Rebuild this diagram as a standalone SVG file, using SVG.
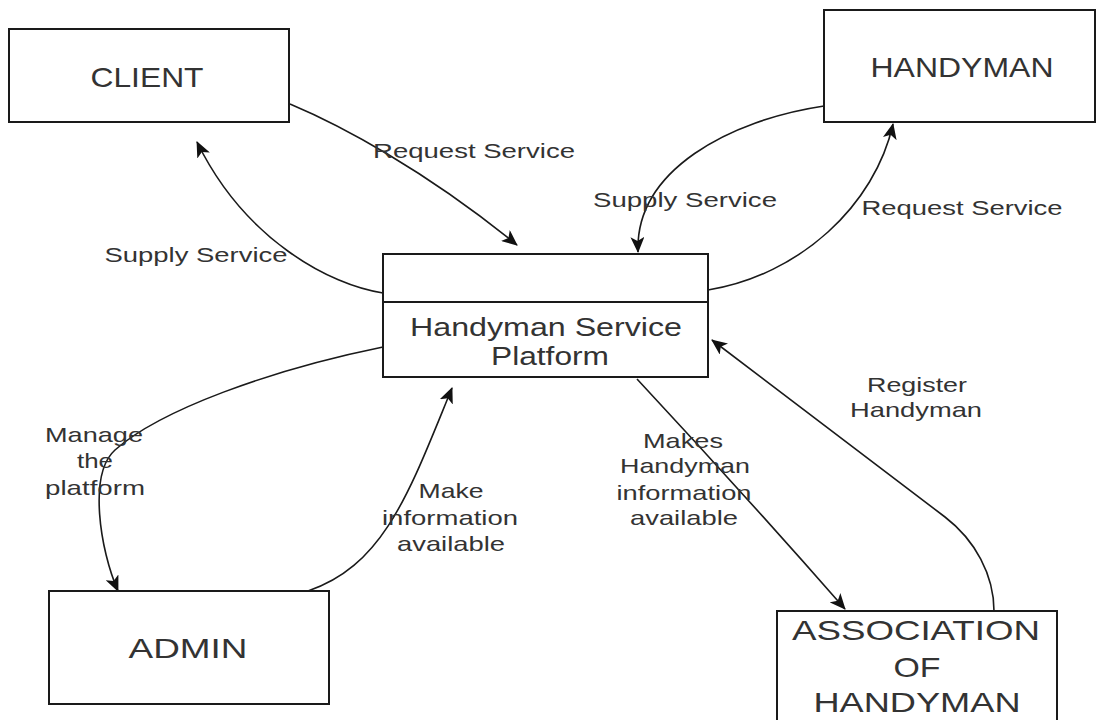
<svg xmlns="http://www.w3.org/2000/svg" width="1097" height="720" viewBox="0 0 1097 720">
  <style>
    .box { fill: #ffffff; stroke: #1a1a1a; stroke-width: 2; }
    .name { font-family: "Liberation Sans", Arial, sans-serif; fill: #333333; text-anchor: middle; }
    .big { font-size: 28px; }
    .mid { font-size: 25px; }
    .lbl { font-family: "Liberation Sans", Arial, sans-serif; font-size: 21px; fill: #333333; text-anchor: middle; }
    .link { fill: none; stroke: #1a1a1a; stroke-width: 1.6; marker-end: url(#arrow); }
  </style>
  <defs>
    <marker id="arrow" markerUnits="userSpaceOnUse" markerWidth="16" markerHeight="14" viewBox="0 0 16 14" refX="15" refY="7" orient="auto">
      <path d="M0,0 L16,7 L0,14 L4,7 z" fill="#111111"/>
    </marker>
  </defs>
  <rect width="1097" height="720" fill="#ffffff"/>

  <g id="connectors">
    <!-- client -> platform: request service -->
    <path class="link" d="M290,104 C340,125 425,170 517,245"/>
    <!-- platform -> client: supply service -->
    <path class="link" d="M383,293 C330,285 245,240 197,142"/>
    <!-- platform -> handyman: supply service -->
    <path class="link" d="M824,106 C730,120 635,170 638,252"/>
    <!-- platform -> handyman: request service -->
    <path class="link" d="M708,290 C800,275 875,205 893,124"/>
    <!-- platform -> admin: manage the platform -->
    <path class="link" d="M383,347 C270,370 160,410 115,450 C88,474 100,550 118,591"/>
    <!-- admin -> platform: make information available -->
    <path class="link" d="M308,591 C385,565 410,490 452,388"/>
    <!-- platform -> association: makes handyman information available -->
    <path class="link" d="M637,379 Q745,495 845,609"/>
    <!-- association -> platform: register handyman -->
    <path class="link" d="M994,611 C994,575 975,540 945,517 L712,340"/>
  </g>

  <g id="edge-labels">
    <text class="lbl" x="474" y="158" textLength="202" lengthAdjust="spacingAndGlyphs">Request Service</text>
    <text class="lbl" x="196" y="262" textLength="183" lengthAdjust="spacingAndGlyphs">Supply Service</text>
    <text class="lbl" x="685" y="207" textLength="184" lengthAdjust="spacingAndGlyphs">Supply Service</text>
    <text class="lbl" x="962" y="215" textLength="201" lengthAdjust="spacingAndGlyphs">Request Service</text>
    <text class="lbl" x="94" y="442" textLength="98" lengthAdjust="spacingAndGlyphs">Manage</text>
    <text class="lbl" x="95" y="468" textLength="36" lengthAdjust="spacingAndGlyphs">the</text>
    <text class="lbl" x="95" y="495" textLength="100" lengthAdjust="spacingAndGlyphs">platform</text>
    <text class="lbl" x="451" y="498" textLength="65" lengthAdjust="spacingAndGlyphs">Make</text>
    <text class="lbl" x="450" y="525" textLength="136" lengthAdjust="spacingAndGlyphs">information</text>
    <text class="lbl" x="451" y="551" textLength="108" lengthAdjust="spacingAndGlyphs">available</text>
    <text class="lbl" x="683" y="448" textLength="80" lengthAdjust="spacingAndGlyphs">Makes</text>
    <text class="lbl" x="685" y="473" textLength="130" lengthAdjust="spacingAndGlyphs">Handyman</text>
    <text class="lbl" x="684" y="500" textLength="135" lengthAdjust="spacingAndGlyphs">information</text>
    <text class="lbl" x="684" y="525" textLength="108" lengthAdjust="spacingAndGlyphs">available</text>
    <text class="lbl" x="917" y="392" textLength="100" lengthAdjust="spacingAndGlyphs">Register</text>
    <text class="lbl" x="916" y="417" textLength="132" lengthAdjust="spacingAndGlyphs">Handyman</text>
  </g>

  <g id="client">
    <rect class="box" x="9" y="29" width="280" height="93"/>
    <text class="name big" x="147" y="87" textLength="113" lengthAdjust="spacingAndGlyphs">CLIENT</text>
  </g>

  <g id="handyman">
    <rect class="box" x="824" y="10" width="271" height="112"/>
    <text class="name big" x="962" y="77" textLength="183" lengthAdjust="spacingAndGlyphs">HANDYMAN</text>
  </g>

  <g id="platform">
    <rect class="box" x="383" y="254" width="325" height="123"/>
    <line x1="383" y1="302" x2="708" y2="302" stroke="#1a1a1a" stroke-width="2"/>
    <text class="name mid" x="546" y="336" textLength="272" lengthAdjust="spacingAndGlyphs">Handyman Service</text>
    <text class="name mid" x="550" y="365" textLength="118" lengthAdjust="spacingAndGlyphs">Platform</text>
  </g>

  <g id="admin">
    <rect class="box" x="49" y="591" width="280" height="113"/>
    <text class="name big" x="188" y="658" textLength="119" lengthAdjust="spacingAndGlyphs">ADMIN</text>
  </g>

  <g id="association">
    <rect class="box" x="777" y="611" width="280" height="120"/>
    <text class="name big" x="916" y="640" textLength="248" lengthAdjust="spacingAndGlyphs">ASSOCIATION</text>
    <text class="name big" x="917" y="677" textLength="47" lengthAdjust="spacingAndGlyphs">OF</text>
    <text class="name big" x="917" y="712" textLength="207" lengthAdjust="spacingAndGlyphs">HANDYMAN</text>
  </g>
</svg>
